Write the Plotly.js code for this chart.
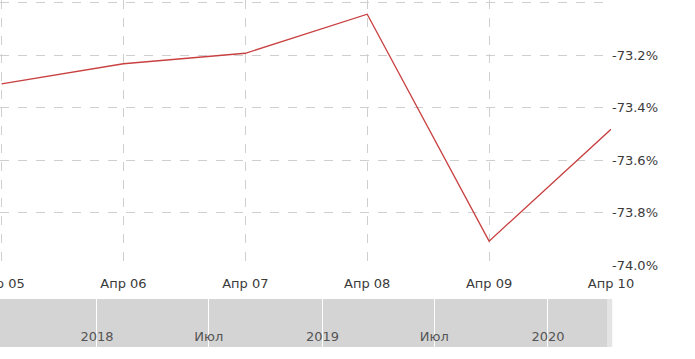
<!DOCTYPE html>
<html>
<head>
<meta charset="utf-8">
<script src="https://cdn.plot.ly/plotly-3.0.1.min.js"></script>
<style>html,body{margin:0;padding:0;background:#fff;}#chart{width:695px;height:359px;}</style>
</head>
<body>
<div id="chart"></div>
<script>
// Data
const categories = ['Апр 05', 'Апр 06', 'Апр 07', 'Апр 08', 'Апр 09', 'Апр 10'];
const values = [-73.31, -73.233, -73.193, -73.044, -73.909, -73.483];
const yTickVals = [-74.0, -73.8, -73.6, -73.4, -73.2, -73.0];
const yTickText = ['-74.0%', '-73.8%', '-73.6%', '-73.4%', '-73.2%', ''];
const navTickVals = ['2018-01-01', '2018-07-01', '2019-01-01', '2019-07-01', '2020-01-01'];
const navTickText = ['2018', 'Июл', '2019', 'Июл', '2020'];
const navRange = ['2017-07-28', '2020-04-12'];

const font = {family: 'DejaVu Sans, Verdana, sans-serif', size: 13, color: '#3a3a3a'};

const traces = [
  {
    x: categories, y: values, type: 'scatter', mode: 'lines',
    line: {color: '#c94040', width: 1.3},
    xaxis: 'x', yaxis: 'y', hoverinfo: 'skip', showlegend: false
  },
  {
    x: [], y: [], type: 'scatter', mode: 'lines',
    xaxis: 'x2', yaxis: 'y2', showlegend: false, hoverinfo: 'skip'
  }
];

const layout = {
  width: 695, height: 359,
  margin: {l: 0, r: 84, t: 0, b: 12, pad: 0},
  paper_bgcolor: '#ffffff', plot_bgcolor: 'rgba(0,0,0,0)',
  font: font,
  showlegend: false,
  xaxis: {
    type: 'category', range: [-0.0125, categories.length - 1],
    domain: [0, 1], anchor: 'y',
    showgrid: true, gridcolor: '#cfcfcf', gridwidth: 1, griddash: 'dash',
    showline: false, zeroline: false,
    ticks: 'outside', ticklen: 6, tickcolor: 'rgba(0,0,0,0)',
    tickfont: {family: font.family, size: 13, color: '#3a3a3a'}
  },
  yaxis: {
    range: [-74.0, -72.99], domain: [0.2363, 1], anchor: 'x', side: 'right',
    tickvals: yTickVals, ticktext: yTickText,
    showgrid: true, gridcolor: '#cfcfcf', gridwidth: 1, griddash: 'dash',
    showline: false, zeroline: false,
    ticks: '',
    tickfont: {family: font.family, size: 13, color: '#3a3a3a'}
  },
  xaxis2: {
    type: 'date', range: navRange, domain: [0, 1], anchor: 'y2',
    tickvals: navTickVals, ticktext: navTickText,
    showgrid: true, gridcolor: '#ffffff', gridwidth: 1,
    showline: false, zeroline: false, ticks: '',
    ticklabelposition: 'inside',
    tickfont: {family: font.family, size: 13, color: '#555'}
  },
  yaxis2: {
    range: [0, 1], domain: [0, 0.1383], anchor: 'x2',
    showgrid: false, zeroline: false, showticklabels: false, ticks: ''
  },
  shapes: [
    {type: 'rect', xref: 'paper', yref: 'y2 domain', x0: 0, x1: 0.9945, y0: 0, y1: 1,
     fillcolor: '#d4d4d4', line: {width: 0}, layer: 'below'},
    {type: 'rect', xref: 'paper', yref: 'y2 domain', x0: 0.9945, x1: 1.002, y0: 0, y1: 1,
     fillcolor: '#e4e4e4', line: {width: 0}, layer: 'below'}
  ]
};

Plotly.newPlot('chart', traces, layout, {displayModeBar: false, staticPlot: true});
</script>
</body>
</html>
